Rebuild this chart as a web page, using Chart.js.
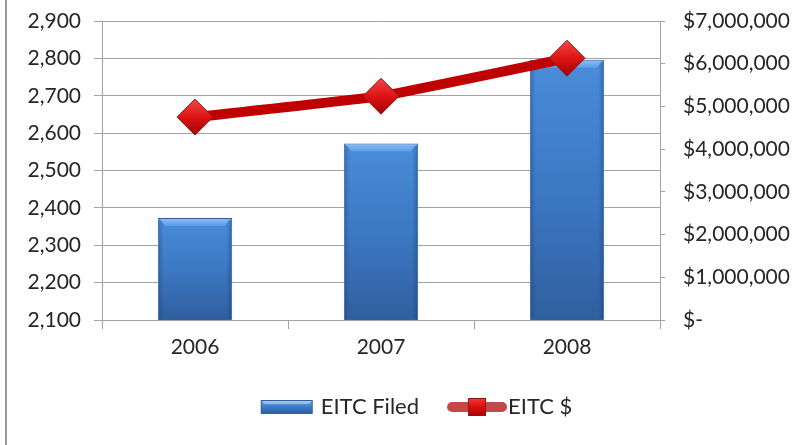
<!DOCTYPE html>
<html><head><meta charset="utf-8">
<script src="https://cdn.jsdelivr.net/npm/chart.js@4/dist/chart.umd.min.js"></script>
<style>html,body{margin:0;padding:0;background:#fff;}</style>
</head><body>
<canvas id="c" width="801" height="445"></canvas>
<script>
// ---- data ----
const years = ['2006', '2007', '2008'];
const eitcFiled = [2373, 2572, 2796];
const eitcDollars = [4750000, 5240000, 6130000];
const seriesNames = ['EITC Filed', 'EITC $'];
const leftAxisRange = [2100, 2900, 100];
const rightAxisRange = [0, 7000000, 1000000];

const FONT = 'Lato';
const TEXT = '#262626';
const GRID = '#A3A3A3';

function makeBarSwatch() {
  const c = document.createElement('canvas');
  c.width = 76; c.height = 16;
  const g = c.getContext('2d');
  const x = 23, y = 1, w = 52, h = 14;
  const gr = g.createLinearGradient(0, y, 0, y + h);
  gr.addColorStop(0, '#79B0EE'); gr.addColorStop(0.45, '#3F7FCC'); gr.addColorStop(1, '#2B5C9C');
  g.fillStyle = gr; g.fillRect(x, y, w, h);
  g.fillStyle = 'rgba(255,255,255,0.35)';
  g.beginPath(); g.moveTo(x, y); g.lineTo(x + w, y); g.lineTo(x + w - 4, y + 4); g.lineTo(x + 4, y + 4); g.closePath(); g.fill();
  g.strokeStyle = '#2F5F9C'; g.lineWidth = 1; g.strokeRect(x + 0.5, y + 0.5, w - 1, h - 1);
  return c;
}
function makeLineSwatch() {
  const c = document.createElement('canvas');
  c.width = 88; c.height = 22;
  const g = c.getContext('2d');
  g.strokeStyle = '#C44848'; g.lineWidth = 10; g.lineCap = 'round';
  g.beginPath(); g.moveTo(33, 11); g.lineTo(83, 11); g.stroke();
  const gr = g.createLinearGradient(0, 2, 0, 20);
  gr.addColorStop(0, '#F23A3A'); gr.addColorStop(0.5, '#DA1010'); gr.addColorStop(1, '#A80000');
  g.fillStyle = gr; g.fillRect(49, 2, 18, 18);
  g.strokeStyle = '#8A1515'; g.lineWidth = 1; g.strokeRect(49.5, 2.5, 17, 17);
  return c;
}
const barSwatch = makeBarSwatch();
const lineSwatch = makeLineSwatch();

const pagePlugin = {
  id: 'page',
  beforeDraw(chart) {
    const ctx = chart.ctx;
    ctx.save();
    ctx.fillStyle = '#fff'; ctx.fillRect(0, 0, chart.width, chart.height);
    ctx.fillStyle = '#9A9A9A'; ctx.fillRect(5, 0, 2, chart.height);
    ctx.restore();
  }
};
const bevelPlugin = {
  id: 'bevel',
  afterDatasetDraw(chart, args) {
    if (chart.data.datasets[args.index].type !== 'bar') return;
    const ctx = chart.ctx;
    const area = chart.chartArea;
    ctx.save();
    args.meta.data.forEach(el => {
      const w = el.width, l = el.x - w / 2, r = el.x + w / 2, t = el.y;
      const b = Math.min(el.base, area.bottom);
      const d = 8;
      const g = ctx.createLinearGradient(0, t, 0, t + d);
      g.addColorStop(0, '#8CC0F5'); g.addColorStop(1, '#5C9BE3');
      ctx.fillStyle = g;
      ctx.beginPath(); ctx.moveTo(l + 1, t + 1); ctx.lineTo(r - 1, t + 1); ctx.lineTo(r - d, t + d); ctx.lineTo(l + d, t + d); ctx.closePath(); ctx.fill();
      const gl = ctx.createLinearGradient(l, 0, l + 6, 0);
      gl.addColorStop(0, 'rgba(20,50,100,0.35)'); gl.addColorStop(1, 'rgba(20,50,100,0)');
      ctx.fillStyle = gl; ctx.fillRect(l + 1, t + 2, 6, b - t - 3);
      const gr = ctx.createLinearGradient(r - 6, 0, r, 0);
      gr.addColorStop(0, 'rgba(20,50,100,0)'); gr.addColorStop(1, 'rgba(20,50,100,0.4)');
      ctx.fillStyle = gr; ctx.fillRect(r - 7, t + 2, 6, b - t - 3);
    });
    ctx.restore();
  }
};

new Chart(document.getElementById('c'), {
  data: {
    labels: years,
    datasets: [
      {
        type: 'line',
        label: seriesNames[1],
        data: eitcDollars,
        yAxisID: 'y1',
        order: 0,
        borderColor: '#C00000',
        borderWidth: 10,
        tension: 0.1,
        pointStyle: 'rectRot',
        pointRadius: 18,
        pointHoverRadius: 18,
        pointBorderWidth: 1,
        pointBorderColor: '#8E1A1A',
        pointBackgroundColor: (c) => {
          const chart = c.chart;
          if (!chart.chartArea) return '#D81515';
          const py = chart.scales.y1.getPixelForValue(c.raw);
          const g = chart.ctx.createLinearGradient(0, py - 18, 0, py + 18);
          g.addColorStop(0, '#F24848'); g.addColorStop(0.5, '#DD1414'); g.addColorStop(1, '#A30000');
          return g;
        }
      },
      {
        type: 'bar',
        label: seriesNames[0],
        data: eitcFiled,
        yAxisID: 'y',
        order: 1,
        barPercentage: 0.8,
        categoryPercentage: 0.5,
        borderColor: '#2F5E9A',
        borderWidth: 1,
        backgroundColor: (c) => {
          const chart = c.chart;
          if (!chart.chartArea) return '#3F7FCC';
          const ys = chart.scales.y;
          const top = ys.getPixelForValue(c.raw);
          const g = chart.ctx.createLinearGradient(0, top, 0, ys.bottom);
          g.addColorStop(0, '#4A8DDA'); g.addColorStop(0.5, '#3C78C4'); g.addColorStop(1, '#305F9F');
          return g;
        }
      }
    ]
  },
  options: {
    responsive: false,
    animation: false,
    devicePixelRatio: 1,
    layout: { padding: { left: 13, right: 0, top: 21, bottom: 17 } },
    plugins: {
      tooltip: { enabled: false },
      legend: {
        position: 'bottom',
        labels: {
          usePointStyle: true,
          pointStyleWidth: 68,
          padding: 10,
          color: TEXT,
          font: { family: FONT, size: 22 },
          generateLabels: () => [
            { text: seriesNames[0], pointStyle: barSwatch, fillStyle: 'rgba(0,0,0,0)', strokeStyle: 'rgba(0,0,0,0)', lineWidth: 0, hidden: false, datasetIndex: 1, fontColor: TEXT },
            { text: seriesNames[1], pointStyle: lineSwatch, fillStyle: 'rgba(0,0,0,0)', strokeStyle: 'rgba(0,0,0,0)', lineWidth: 0, hidden: false, datasetIndex: 0, fontColor: TEXT }
          ]
        }
      }
    },
    scales: {
      x: {
        type: 'category',
        offset: true,
        grid: { offset: true, drawOnChartArea: false, drawTicks: true, tickLength: 9, color: GRID },
        border: { color: GRID },
        ticks: { color: TEXT, font: { family: FONT, size: 21 }, padding: 6 },
        afterFit: (s) => { s.height = 66; }
      },
      y: {
        position: 'left',
        min: leftAxisRange[0], max: leftAxisRange[1],
        ticks: { stepSize: leftAxisRange[2], color: TEXT, font: { family: FONT, size: 21 }, padding: 13,
          callback: (v) => v.toLocaleString('en-US') },
        grid: { color: GRID, tickLength: 8 },
        border: { color: GRID },
        afterFit: (s) => { s.width = 89; s.paddingTop = 0; s.paddingBottom = 0; }
      },
      y1: {
        position: 'right',
        min: rightAxisRange[0], max: rightAxisRange[1],
        ticks: { stepSize: rightAxisRange[2], color: TEXT, font: { family: FONT, size: 21 }, padding: 18,
          callback: (v) => v === 0 ? '$-' : '$' + v.toLocaleString('en-US') },
        grid: { drawOnChartArea: false, color: GRID, tickLength: 5 },
        border: { color: GRID },
        afterFit: (s) => { s.width = 141; s.paddingTop = 0; s.paddingBottom = 0; }
      }
    }
  },
  plugins: [pagePlugin, bevelPlugin]
});
</script>
</body></html>
